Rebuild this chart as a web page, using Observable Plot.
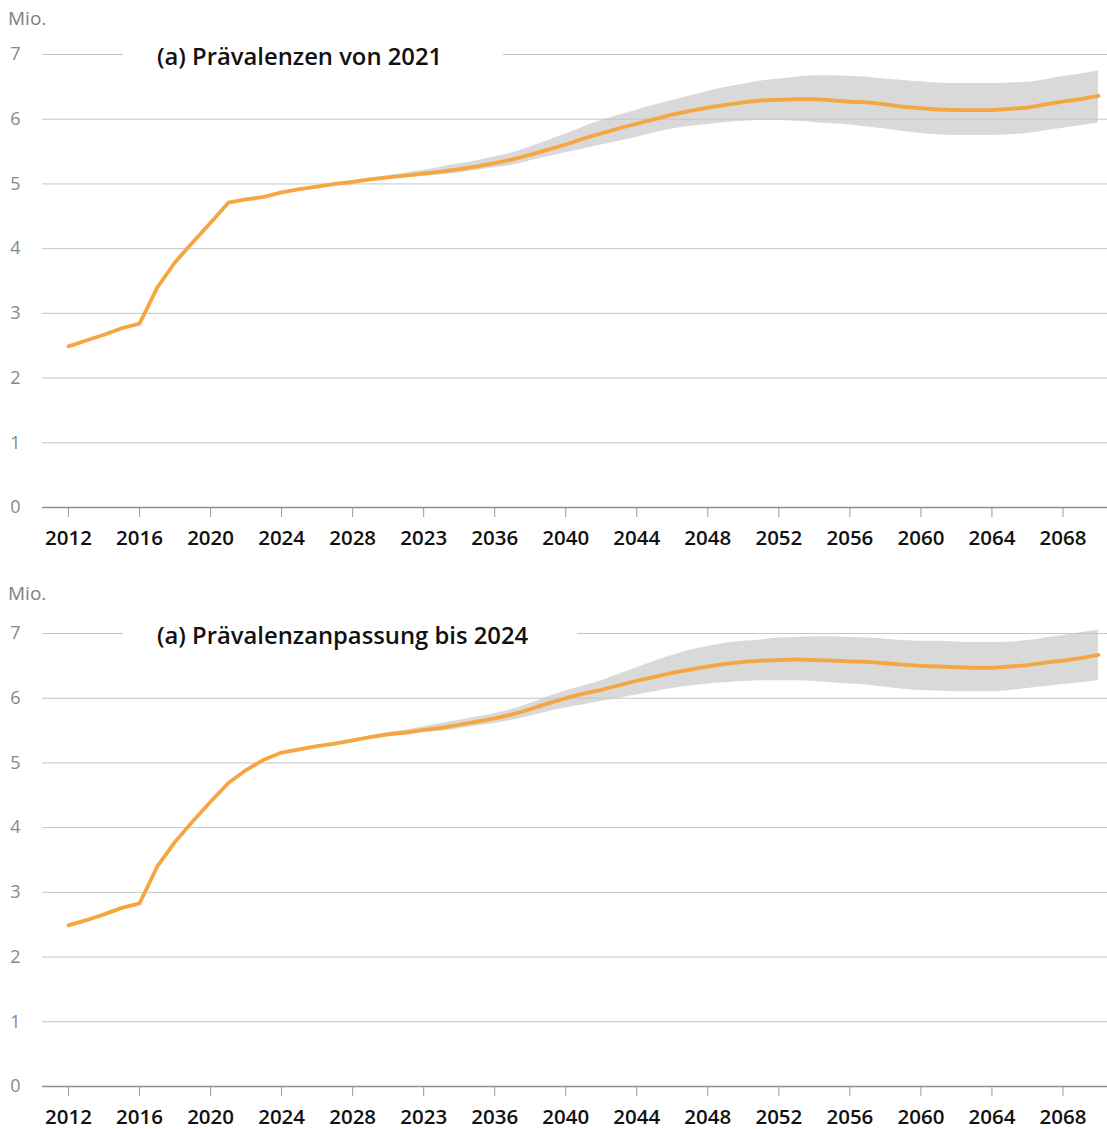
<!DOCTYPE html>
<html>
<head>
<meta charset="utf-8">
<script src="https://cdn.jsdelivr.net/npm/d3@7"></script>
<script src="https://cdn.jsdelivr.net/npm/@observablehq/plot@0.6"></script>
<style>
  html, body { margin: 0; padding: 0; background: #fff; }
  #wrap { position: relative; width: 1107px; height: 1129px; overflow: hidden; font-family: "Open Sans", sans-serif; }
  .panel { position: absolute; left: 0; }
  .unit { position: absolute; left: 8px; font-size: 19px; color: #808080; line-height: 22px; }
  .title { position: absolute; left: 123px; background: #fff; padding-left: 34px; box-sizing: border-box;
           font-size: 23.8px; font-weight: 600; color: #111; line-height: 32px; height: 32px; white-space: nowrap; }
</style>
</head>
<body>
<div id="wrap">
  <div class="panel" id="p1" style="top:0"></div>
  <div class="panel" id="p2" style="top:579px"></div>
  <div class="unit" style="top:7px">Mio.</div>
  <div class="unit" style="top:582px">Mio.</div>
  <div class="title" style="top:40px;width:380px">(a) Prävalenzen von 2021</div>
  <div class="title" style="top:619px;width:454px">(a) Prävalenzanpassung bis 2024</div>
</div>
<script>
const years = [2012,2013,2014,2015,2016,2017,2018,2019,2020,2021,2022,2023,2024,2025,2026,2027,2028,2029,2030,
  2031,2032,2033,2034,2035,2036,2037,2038,2039,2040,2041,2042,2043,2044,2045,2046,2047,2048,2049,2050,
  2051,2052,2053,2054,2055,2056,2057,2058,2059,2060,2061,2062,2063,2064,2065,2066,2067,2068,2069,2070];

// Panel 1: (a) Prävalenzen von 2021
const line1 = [2.49,2.58,2.67,2.77,2.84,3.40,3.79,4.10,4.40,4.71,4.76,4.80,4.87,4.92,4.96,5.00,5.03,5.07,5.10,
  5.13,5.16,5.19,5.23,5.27,5.32,5.38,5.45,5.53,5.61,5.70,5.78,5.86,5.93,6.00,6.07,6.13,6.18,6.22,6.26,
  6.29,6.30,6.31,6.31,6.29,6.27,6.26,6.23,6.19,6.17,6.15,6.14,6.14,6.14,6.16,6.18,6.23,6.27,6.31,6.36];
const bandYears1 = [2021,2022,2023,2024,2025,2026,2027,2028,2029,2030,2031,2032,2033,2034,2035,2036,2037,2038,2039,2040,
  2041,2042,2043,2044,2045,2046,2047,2048,2049,2050,2051,2052,2053,2054,2055,2056,2057,2058,2059,2060,
  2061,2062,2063,2064,2065,2066,2067,2068,2069,2070];
const lower1 = [4.71,4.76,4.80,4.86,4.91,4.95,4.99,5.02,5.05,5.08,5.10,5.12,5.14,5.17,5.21,5.25,5.29,5.36,5.42,5.48,
  5.54,5.60,5.66,5.72,5.79,5.85,5.89,5.92,5.95,5.97,5.98,5.98,5.97,5.95,5.93,5.91,5.88,5.85,5.81,5.78,
  5.76,5.75,5.75,5.75,5.76,5.78,5.82,5.86,5.90,5.94];
const upper1 = [4.71,4.76,4.80,4.88,4.93,4.97,5.02,5.05,5.09,5.13,5.17,5.21,5.26,5.31,5.36,5.42,5.48,5.57,5.67,5.77,
  5.88,5.98,6.06,6.14,6.22,6.29,6.36,6.43,6.49,6.54,6.59,6.62,6.65,6.67,6.67,6.66,6.65,6.62,6.60,6.58,
  6.56,6.55,6.55,6.55,6.56,6.57,6.61,6.66,6.70,6.75];

// Panel 2: (a) Prävalenzanpassung bis 2024
const line2 = [2.49,2.57,2.66,2.76,2.83,3.40,3.78,4.10,4.40,4.69,4.89,5.05,5.16,5.21,5.26,5.30,5.35,5.40,5.44,
  5.47,5.51,5.54,5.59,5.64,5.69,5.75,5.83,5.92,6.00,6.07,6.13,6.20,6.27,6.33,6.39,6.44,6.49,6.53,6.56,
  6.58,6.59,6.60,6.59,6.58,6.57,6.56,6.54,6.52,6.50,6.49,6.48,6.47,6.47,6.49,6.51,6.55,6.58,6.62,6.67];
const bandYears2 = [2024,2025,2026,2027,2028,2029,2030,2031,2032,2033,2034,2035,2036,2037,2038,2039,2040,
  2041,2042,2043,2044,2045,2046,2047,2048,2049,2050,2051,2052,2053,2054,2055,2056,2057,2058,2059,2060,
  2061,2062,2063,2064,2065,2066,2067,2068,2069,2070];
const lower2 = [5.16,5.20,5.25,5.29,5.33,5.37,5.41,5.44,5.47,5.49,5.53,5.57,5.61,5.66,5.72,5.79,5.85,
  5.90,5.95,6.00,6.05,6.10,6.15,6.19,6.22,6.24,6.26,6.27,6.27,6.27,6.26,6.24,6.22,6.20,6.17,6.14,6.12,
  6.11,6.10,6.10,6.10,6.12,6.15,6.18,6.21,6.24,6.27];
const upper2 = [5.16,5.22,5.27,5.31,5.36,5.42,5.47,5.51,5.56,5.61,5.66,5.71,5.76,5.83,5.92,6.02,6.11,
  6.19,6.27,6.37,6.47,6.57,6.66,6.74,6.80,6.85,6.88,6.90,6.93,6.94,6.95,6.95,6.94,6.93,6.91,6.89,6.88,
  6.88,6.87,6.86,6.86,6.87,6.89,6.93,6.97,7.01,7.05];

const tickYears = [2012,2016,2020,2024,2028,2032,2036,2040,2044,2048,2052,2056,2060,2064,2068];
const tickLabels = ["2012","2016","2020","2024","2028","2023","2036","2040","2044","2048","2052","2056","2060","2064","2068"];
const yTicks = [0,1,2,3,4,5,6,7];
const gridVals = [1,2,3,4,5,6,7];

function panel(lineVals, bandYears, lo, hi, height, marginBottom) {
  const data = years.map((y, i) => ({year: y, v: lineVals[i]}));
  const band = bandYears.map((y, i) => ({year: y, lo: lo[i], hi: hi[i]}));
  return Plot.plot({
    width: 1107, height,
    marginLeft: 42, marginRight: 0, marginTop: 54, marginBottom,
    style: {fontFamily: "'Open Sans', sans-serif", background: "white"},
    x: {domain: [2010.536, 2070.507], label: null},
    y: {domain: [0, 7], label: null},
    marks: [
      Plot.areaY(band, {x: "year", y1: "lo", y2: "hi", fill: "#d9d9d9", curve: "monotone-x"}),
      Plot.ruleY(gridVals, {stroke: "#c4c4c4", strokeWidth: 1}),
      Plot.line(data, {x: "year", y: "v", stroke: "#F6A641", strokeWidth: 3.8, strokeLinejoin: "round"}),
      Plot.ruleY([0], {stroke: "#8f8f8f", strokeWidth: 1.5}),
      Plot.axisX({ticks: tickYears, tickSize: 10, tickPadding: 13, stroke: "#9a9a9a",
        fill: "#111", fontSize: 20.5, fontWeight: 600,
        tickFormat: d => tickLabels[tickYears.indexOf(d)], label: null}),
      Plot.axisY({ticks: yTicks, tickSize: 0, tickPadding: 22, fill: "#888",
        fontSize: 18, tickFormat: d => String(d), label: null})
    ]
  });
}

document.getElementById("p1").appendChild(panel(line1, bandYears1, lower1, upper1, 579, 72));
document.getElementById("p2").appendChild(panel(line2, bandYears2, lower2, upper2, 550, 43));
</script>
</body>
</html>
